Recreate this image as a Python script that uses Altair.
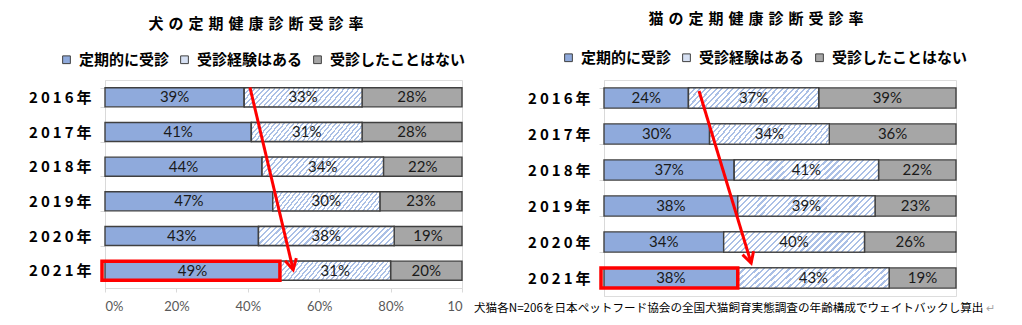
import altair as alt
import pandas as pd

# ---------------- data ----------------
years = ["2016年", "2017年", "2018年", "2019年", "2020年", "2021年"]
categories = ["定期的に受診", "受診経験はある", "受診したことはない"]

dog_regular = [39, 41, 44, 47, 43, 49]
dog_once = [33, 31, 34, 30, 38, 31]
dog_never = [28, 28, 22, 23, 19, 20]

cat_regular = [24, 30, 37, 38, 34, 38]
cat_once = [37, 34, 41, 39, 40, 43]
cat_never = [39, 36, 22, 23, 26, 19]

dog_title = "犬の定期健康診断受診率"
cat_title = "猫の定期健康診断受診率"
footnote = "犬猫各N=206を日本ペットフード協会の全国犬猫飼育実態調査の年齢構成でウェイトバックし算出"

x_ticks = [0, 20, 40, 60, 80, 100]
x_tick_labels = ["0%", "20%", "40%", "60%", "80%", "10"]

# arrow annotations (percent positions): start on 2016 row, end on 2021 row
dog_arrow = {"x_start": 40.6, "x_end": 52.7}
cat_arrow = {"x_start": 27.0, "x_end": 41.8}

# ---------------- styles ----------------
COLORS = ["#8faadc", "#d6e0f3", "#a6a6a6"]
JP = "Noto Sans CJK JP"
NUM = "Lato"


def hatch_gradient(n=27, duty=0.38, color="#abc0e6"):
    stops = []
    for i in range(n):
        a = i / n
        b = (i + duty) / n
        c = (i + 1) / n
        stops += [
            alt.GradientStop(offset=a, color=color),
            alt.GradientStop(offset=b, color=color),
            alt.GradientStop(offset=b, color="#ffffff"),
            alt.GradientStop(offset=c, color="#ffffff"),
        ]
    return alt.LinearGradient(gradient="linear", stops=stops, x1=0, y1=0, x2=1.12, y2=0.16)


def build_df(reg, once, never):
    rows = []
    for i, y in enumerate(years):
        start = 0
        for cat, v in zip(categories, [reg[i], once[i], never[i]]):
            rows.append({"year": y, "cat": cat, "value": v, "start": start,
                         "end": start + v, "mid": start + v / 2, "label": f"{v}%"})
            start += v
    return pd.DataFrame(rows)


def spaced(s, sep="\u2004"):
    return sep.join(list(s))


def panel(df, arrow, title, width, height, pad_inner, show_x_axis,
          legend_x, legend_y, title_x, title_y, yoff_start, yoff_end, angle,
          extra_layers=()):
    yscale = alt.Scale(domain=years, paddingInner=pad_inner, paddingOuter=pad_inner / 2)
    xscale = alt.Scale(domain=[0, 100], nice=False)
    if show_x_axis:
        label_expr = "{" + ",".join(f"'{v}':'{l}'" for v, l in zip(x_ticks, x_tick_labels)) + "}[datum.value]"
        xaxis = alt.Axis(values=x_ticks, labelExpr=label_expr, title=None, grid=False,
                         domainColor="#d9d9d9", tickColor="#d9d9d9", tickSize=4,
                         labelColor="#595959", labelFont=NUM, labelFontSize=13,
                         labelPadding=8)
    else:
        xaxis = None
    yaxis = alt.Axis(title=None, labelExpr="join(split(datum.label,''),'\u2009')",
                     labelFont=JP, labelFontWeight="bold", labelFontSize=15,
                     labelColor="#000000", labelPadding=9, tickBand="extent",
                     tickColor="#d9d9d9", tickSize=5, domainColor="#d9d9d9")

    base = alt.Chart(df)
    bars = base.mark_bar(stroke="#404040", strokeWidth=1.4).encode(
        y=alt.Y("year:N", scale=yscale, axis=yaxis),
        x=alt.X("start:Q", scale=xscale, axis=xaxis),
        x2="end:Q",
        color=alt.Color("cat:N", scale=alt.Scale(domain=categories, range=COLORS),
                        legend=alt.Legend(title=None, orient="none", direction="horizontal",
                                          legendX=legend_x, legendY=legend_y,
                                          symbolType="square", symbolSize=60,
                                          symbolStrokeColor="#404040", symbolStrokeWidth=1,
                                          labelFont=JP, labelFontWeight="bold",
                                          labelFontSize=15, labelColor="#000000",
                                          labelOffset=5, columnPadding=7,
                                          labelLimit=300)),
    )
    hatch = base.transform_filter(alt.datum.cat == categories[1]).mark_bar(
        fill=hatch_gradient(), stroke="#404040", strokeWidth=1.4
    ).encode(y=alt.Y("year:N", scale=yscale), x=alt.X("start:Q", scale=xscale), x2="end:Q")

    labels = base.mark_text(font=NUM, fontSize=15, color="#1a1a1a").encode(
        y=alt.Y("year:N", scale=yscale), x=alt.X("mid:Q", scale=xscale), text="label:N")

    highlight = base.transform_filter(
        (alt.datum.year == years[-1]) & (alt.datum.cat == categories[0])
    ).mark_bar(filled=False, stroke="#ff0000", strokeWidth=3.5, xOffset=-3).encode(
        y=alt.Y("year:N", scale=yscale), x=alt.X("start:Q", scale=xscale), x2="end:Q")

    adf = pd.DataFrame([{"ys": years[0], "ye": years[-1],
                         "xs": arrow["x_start"], "xe": arrow["x_end"]}])
    arrow_line = alt.Chart(adf).mark_rule(color="#ff0000", strokeWidth=3,
                                          yOffset=yoff_start, y2Offset=yoff_end).encode(
        y=alt.Y("ys:N", scale=yscale), y2="ye:N",
        x=alt.X("xs:Q", scale=xscale), x2="xe:Q")
    arrow_head = alt.Chart(adf).mark_point(
        shape="M-0.55,-1L0,0L0.55,-1", filled=False, stroke="#ff0000", strokeWidth=3,
        size=440, angle=angle, yOffset=yoff_end, opacity=1).encode(
        y=alt.Y("ye:N", scale=yscale), x=alt.X("xe:Q", scale=xscale))

    tdf = pd.DataFrame([{"t": spaced(title)}])
    title_mark = alt.Chart(tdf).mark_text(font=JP, fontWeight="bold", fontSize=15,
                                          color="#000000", align="center",
                                          baseline="middle").encode(
        x=alt.value(title_x), y=alt.value(title_y), text="t:N")

    layers = [bars, hatch, labels, highlight, arrow_line, arrow_head, title_mark] + list(extra_layers)
    return alt.layer(*layers).properties(width=width, height=height)


dog_df = build_df(dog_regular, dog_once, dog_never)
cat_df = build_df(cat_regular, cat_once, cat_never)

fdf = pd.DataFrame([{"t": footnote, "m": "↵"}])
foot = alt.Chart(fdf).mark_text(font=JP, fontSize=11.6, color="#000000", align="left",
                                baseline="middle").encode(
    x=alt.value(-130), y=alt.value(229), text="t:N")
foot_mark = alt.Chart(fdf).mark_text(font=JP, fontSize=11, color="#a6a6a6", align="left",
                                     baseline="middle").encode(
    x=alt.value(382), y=alt.value(229), text="m:N")

left = panel(dog_df, dog_arrow, dog_title, 357, 208, 0.45, True,
             legend_x=-46, legend_y=-28, title_x=151, title_y=-56,
             yoff_start=-10, yoff_end=-1, angle=346.7)
right = panel(cat_df, cat_arrow, cat_title, 352, 216, 0.44, False,
              legend_x=-43, legend_y=-30, title_x=152, title_y=-61,
              yoff_start=-7, yoff_end=-15, angle=342.9, extra_layers=(foot, foot_mark))

chart = alt.hconcat(left, right, spacing=142, bounds="flush").resolve_scale(
    color="independent"
).properties(
    padding={"left": 28, "top": 11, "right": 0, "bottom": 0},
).configure_view(stroke=None).configure(background="#ffffff")

chart.save("out.html", embed_options={"renderer": "svg", "actions": False})
